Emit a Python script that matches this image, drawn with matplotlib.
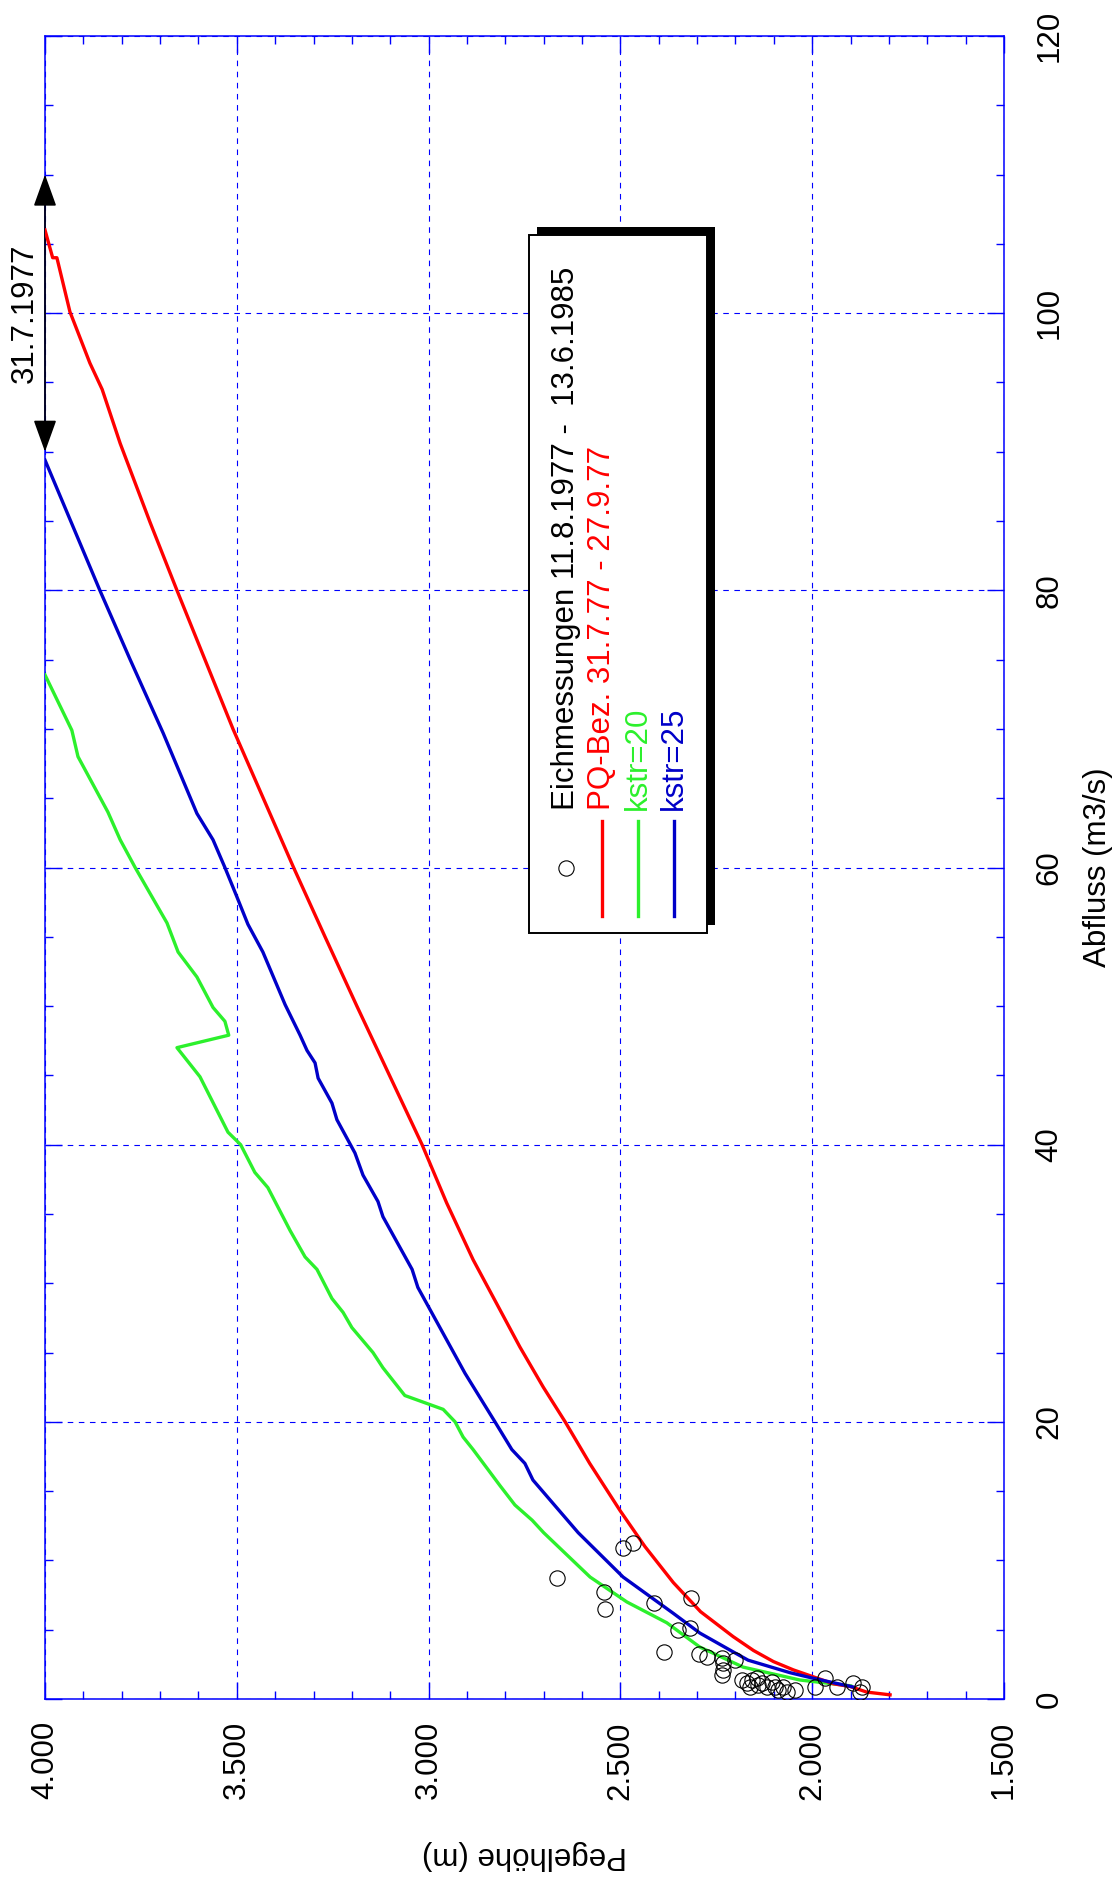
import matplotlib
matplotlib.use('Agg')
import matplotlib.pyplot as plt
import numpy as np
from matplotlib.patches import Rectangle
from matplotlib.ticker import MultipleLocator, FormatStrFormatter

plt.rcParams['font.family'] = ['Liberation Sans', 'DejaVu Sans']
plt.rcParams['font.size'] = 22.5

# PQ-Beziehung 31.7.77 - 27.9.77  (Pegelhoehe m, Abfluss m3/s)
pegel_pq = [4.0, 3.98, 3.969, 3.935, 3.883, 3.851, 3.804, 3.726, 3.656, 3.583,
            3.510, 3.431, 3.352, 3.270, 3.187, 3.102, 3.017, 2.953, 2.884, 2.822,
            2.762, 2.701, 2.644, 2.580, 2.501, 2.436, 2.362, 2.291, 2.206, 2.153,
            2.101, 2.049, 1.997, 1.945, 1.901, 1.858, 1.797]
abfluss_pq = [106.0, 104.0, 104.0, 100.1, 96.4, 94.5, 90.6, 84.9, 80.0, 75.0,
              70.0, 65.0, 60.0, 55.0, 50.0, 45.0, 40.0, 35.8, 31.7, 28.5,
              25.4, 22.5, 20.0, 17.0, 13.6, 11.0, 8.4, 6.3, 4.5, 3.5,
              2.7, 2.1, 1.6, 1.1, 0.9, 0.5, 0.3]

# kstr=20
pegel_k20 = [4.0, 3.93, 3.914, 3.836, 3.804, 3.765, 3.682, 3.653, 3.604, 3.562,
             3.531, 3.521, 3.656, 3.596, 3.523, 3.49, 3.453, 3.419, 3.361, 3.322,
             3.291, 3.252, 3.223, 3.2, 3.145, 3.119, 3.062, 2.962, 2.931, 2.91,
             2.884, 2.814, 2.775, 2.73, 2.70, 2.579, 2.483, 2.379, 2.293, 2.18,
             2.032, 1.90]
abfluss_k20 = [73.9, 69.9, 68.0, 64.0, 62.0, 60.0, 56.0, 53.9, 52.1, 49.9,
               48.9, 47.9, 47.0, 44.9, 40.9, 40.0, 38.0, 36.9, 33.8, 31.9,
               31.0, 28.9, 27.9, 26.8, 25.0, 23.9, 21.9, 20.9, 20.0, 18.9,
               18.0, 15.4, 14.0, 12.9, 12.0, 8.8, 7.0, 5.5, 3.75, 2.3,
               1.37, 0.95]

# kstr=25
pegel_k25 = [4.0, 3.857, 3.778, 3.692, 3.604, 3.562, 3.531, 3.5, 3.471, 3.432,
             3.374, 3.335, 3.317, 3.296, 3.288, 3.252, 3.239, 3.192, 3.171, 3.132,
             3.119, 3.043, 3.028, 2.905, 2.827, 2.783, 2.749, 2.728, 2.61, 2.493,
             2.363, 2.293, 2.206, 2.167, 2.058, 1.998, 1.894]
abfluss_k25 = [89.4, 80.0, 75.0, 69.7, 63.9, 62.0, 60.0, 57.9, 55.9, 53.9,
               50.1, 47.9, 46.8, 45.9, 44.8, 43.0, 41.8, 39.4, 37.8, 35.9,
               34.8, 31.0, 29.7, 23.5, 20.0, 18.0, 17.0, 15.8, 12.0, 8.8,
               6.2, 4.76, 3.4, 2.8, 1.9, 1.5, 0.87]

# Eichmessungen 11.8.1977 - 13.6.1985
pegel_mess = [2.665, 2.543, 2.540, 2.493, 2.467, 2.412, 2.316, 2.350, 2.319, 2.386,
              2.295, 2.274, 2.235, 2.201, 2.233, 2.233, 2.235, 2.183, 2.170, 2.157,
              2.144, 2.141, 2.162, 2.131, 2.118, 2.105, 2.097, 2.089, 2.076, 2.066,
              2.045, 1.993, 1.967, 1.935, 1.894, 1.870, 1.875]
abfluss_mess = [8.73, 7.72, 6.49, 10.90, 11.26, 6.93, 7.29, 4.98, 5.12, 3.39,
                3.25, 3.03, 2.96, 2.81, 2.60, 2.09, 1.73, 1.37, 1.15, 1.37,
                1.52, 1.01, 0.87, 1.15, 0.87, 1.23, 0.87, 0.65, 0.87, 0.51,
                0.65, 0.87, 1.52, 0.87, 1.15, 0.87, 0.51]

legend_labels = ['Eichmessungen 11.8.1977 -  13.6.1985', 'PQ-Bez. 31.7.77 - 27.9.77',
                 'kstr=20', 'kstr=25']

red = '#ff0000'
green = '#2cf02c'
blue = '#0000c8'
axblue = '#0000ff'

fig = plt.figure(figsize=(11.2, 18.77), dpi=100)
ax = fig.add_axes([45 / 1120, (1877 - 1699) / 1877, 959 / 1120, 1663 / 1877])

ax.plot(pegel_pq, abfluss_pq, color=red, lw=2.4, zorder=4)
ax.plot(pegel_k20, abfluss_k20, color=green, lw=2.4, zorder=3)
ax.plot(pegel_k25, abfluss_k25, color=blue, lw=2.4, zorder=5)
ax.plot(pegel_mess, abfluss_mess, 'o', mfc='none', mec='black', mew=0.8, ms=11, zorder=6)

ax.set_xlim(4.0, 1.5)
ax.set_ylim(0, 120)

ax.xaxis.set_major_locator(MultipleLocator(0.5))
ax.xaxis.set_minor_locator(MultipleLocator(0.1))
ax.xaxis.set_major_formatter(FormatStrFormatter('%.3f'))
ax.yaxis.set_major_locator(MultipleLocator(20))
ax.yaxis.set_minor_locator(MultipleLocator(5))

ax.grid(True, which='major', color=axblue, linestyle=(0, (5, 5)), lw=0.8)
for s in ax.spines.values():
    s.set_color(axblue)
    s.set_linewidth(1.1)

ax.tick_params(which='both', direction='in', top=True, bottom=True, left=True, right=True,
               labelleft=False, labelright=True, color=axblue, width=1.0)
ax.tick_params(which='major', length=12)
ax.tick_params(which='minor', length=6)
ax.tick_params(axis='x', which='major', labelrotation=90, pad=16)
ax.tick_params(axis='y', which='major', labelrotation=90, pad=22)
for lbl in ax.get_yticklabels():
    lbl.set_va('center')

ax.set_xlabel('Pegelhöhe (m)', rotation=180, va='center')
ax.xaxis.set_label_coords(0.5, -0.0938)
ax.yaxis.set_label_position('right')
ax.set_ylabel('Abfluss (m3/s)', rotation=90, va='center')
ax.yaxis.set_label_coords(1.098, 0.5)

# Gueltigkeitsbereich der PQ-Beziehung
ax.annotate('', xy=(4.0, 110), xytext=(4.0, 90), annotation_clip=False,
            arrowprops=dict(arrowstyle='<|-|>,head_length=1.0,head_width=0.36',
                            mutation_scale=20, color='black', lw=1.2,
                            shrinkA=0, shrinkB=0, clip_on=False))
ax.annotate('31.7.1977', xy=(4.0, 100), xytext=(-14.4, 0), textcoords='offset points',
            rotation=90, ha='center', va='center', annotation_clip=False)


# legend, drawn by hand because the whole chart is turned on its side
def ax_xy(X, Y):
    return ((X - 45) / 959, (1699 - Y) / 1663)


ax.add_patch(Rectangle(ax_xy(537, 925), 178 / 959, 698 / 1663, transform=ax.transAxes,
                       facecolor='black', edgecolor='none', zorder=10, clip_on=False))
ax.add_patch(Rectangle(ax_xy(529, 933), 178 / 959, 698 / 1663, transform=ax.transAxes,
                       facecolor='white', edgecolor='black', lw=1.4, zorder=11, clip_on=False))

cols = [566, 602, 638, 674]
colors = ['black', red, green, blue]
for i, (lab, col) in enumerate(zip(legend_labels, colors)):
    tx, ty = ax_xy(cols[i], 810)
    ax.text(tx, ty, lab, color=col, rotation=90, rotation_mode='anchor', ha='left',
            va='center', transform=ax.transAxes, zorder=12)
    if i == 0:
        mx, my = ax_xy(cols[i], 868)
        ax.plot([mx], [my], 'o', mfc='none', mec='black', mew=0.8, ms=11,
                transform=ax.transAxes, zorder=12, clip_on=False)
    else:
        x1, y1 = ax_xy(cols[i], 821)
        x2, y2 = ax_xy(cols[i], 916)
        ax.plot([x1, x2], [y1, y2], color=col, lw=2.4, transform=ax.transAxes,
                zorder=12, clip_on=False)

fig.savefig('out.png', dpi=100)
